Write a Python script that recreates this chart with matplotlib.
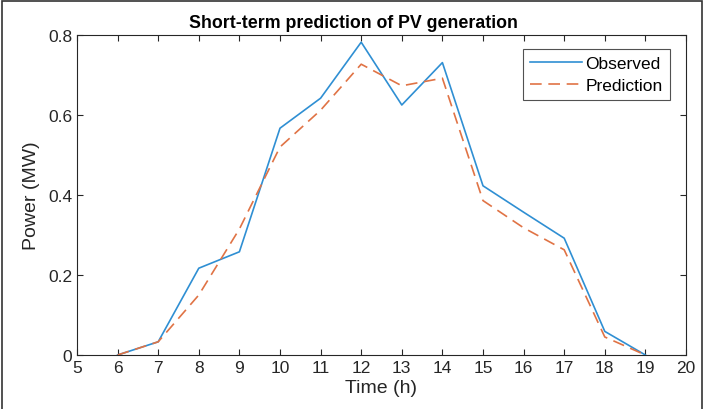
import matplotlib
matplotlib.use("Agg")
import matplotlib.pyplot as plt
from matplotlib.patches import Rectangle

hours = [6, 7, 8, 9, 10, 11, 12, 13, 14, 15, 16, 17, 18, 19]
observed = [0.0, 0.033, 0.217, 0.258, 0.567, 0.642, 0.782, 0.625, 0.731, 0.423, 0.357, 0.292, 0.059, 0.0]
prediction = [0.0, 0.033, 0.150, 0.315, 0.520, 0.612, 0.727, 0.673, 0.692, 0.386, 0.318, 0.263, 0.045, 0.0]
xticks = list(range(5, 21))
yticks = [0, 0.2, 0.4, 0.6, 0.8]

plt.rcParams['font.family'] = ['Liberation Sans', 'DejaVu Sans']
fig = plt.figure(figsize=(7.07, 4.10), dpi=100)
ax = fig.add_axes([0.1089, 0.1317, 0.8614, 0.7805])
ax.plot(hours, observed, color='#2F8FD3', lw=1.2, label='Observed')
ax.plot(hours, prediction, color='#E07345', lw=1.2, ls=(0, (7, 4)), label='Prediction')
ax.set_xlim(5, 20)
ax.set_ylim(0, 0.8)
ax.set_xticks(xticks)
ax.set_yticks(yticks)
ax.set_yticklabels(['0', '0.2', '0.4', '0.6', '0.8'])
ax.tick_params(direction='in', top=True, right=True, length=4, labelsize=12.5, colors='#262626', width=0.8)
for s in ax.spines.values():
    s.set_color('#262626')
    s.set_linewidth(0.8)
ax.set_xlabel('Time (h)', fontsize=14, color='#262626', labelpad=3)
ax.set_ylabel('Power (MW)', fontsize=14, color='#262626', labelpad=6)
ax.set_title('Short-term prediction of PV generation', fontsize=12.8, fontweight='bold', pad=6, x=0.454)
leg = ax.legend(loc='upper right', bbox_to_anchor=(0.973, 0.955), fontsize=12.5, frameon=True,
                fancybox=False, edgecolor='#262626', handlelength=3.0, handletextpad=0.2,
                borderpad=0.4, labelspacing=0.35, borderaxespad=0)
leg.get_frame().set_linewidth(0.8)
fig.patches.append(Rectangle((0.003, -0.01), 0.99, 1.005, transform=fig.transFigure,
                             fill=False, edgecolor='#333333', lw=1.2))
fig.savefig('out.png', dpi=100)
